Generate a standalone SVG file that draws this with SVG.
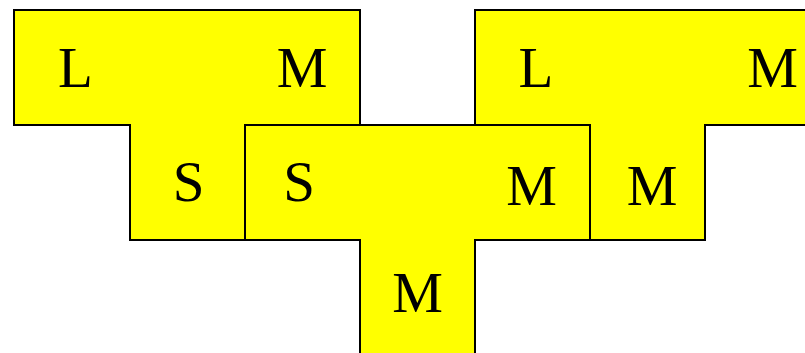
<svg xmlns="http://www.w3.org/2000/svg" width="805" height="353" viewBox="0 0 805 353">
<style>
.shape{fill:#ffff00;stroke:#000;stroke-width:2;stroke-linejoin:miter}
.lbl{font-family:"Liberation Serif","Times New Roman",serif;font-size:57px;fill:#000;text-anchor:middle}
</style>
<rect width="805" height="353" fill="#fff"/>
<g id="shape-left">
<path class="shape" d="M14,10 H360 V125 H245 V240 H130 V125 H14 Z"/>
<text class="lbl" x="75.5" y="87">L</text>
<text class="lbl" x="302" y="87">M</text>
<text class="lbl" x="188.5" y="201">S</text>
</g>
<g id="shape-right">
<path class="shape" d="M475,10 H820 V125 H705 V240 H590 V125 H475 Z"/>
<text class="lbl" x="536" y="87">L</text>
<text class="lbl" x="772.5" y="87">M</text>
<text class="lbl" x="652" y="205">M</text>
</g>
<g id="shape-middle">
<path class="shape" d="M245,125 H590 V240 H475 V360 H360 V240 H245 Z"/>
<text class="lbl" x="299" y="201">S</text>
<text class="lbl" x="531.5" y="205">M</text>
<text class="lbl" x="417.5" y="312">M</text>
</g>
<g id="connectors"></g>
</svg>
